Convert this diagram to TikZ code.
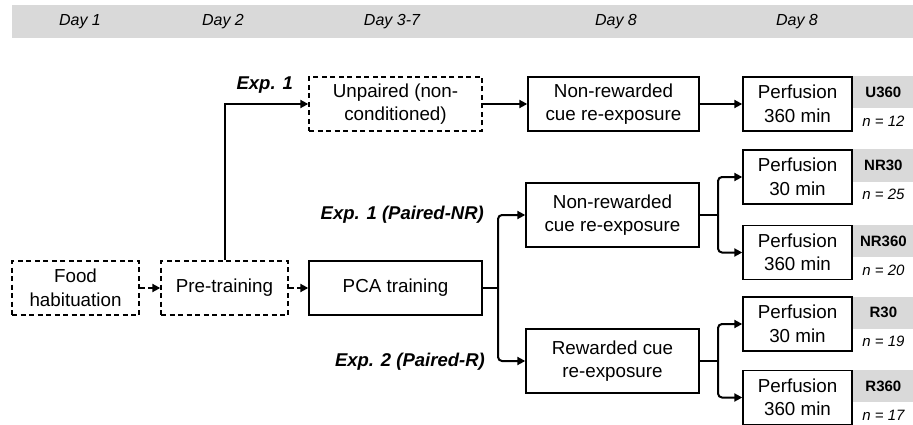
\documentclass[tikz,border=0pt]{standalone}
\usepackage{fontspec}
\setmainfont{Liberation Sans}
\usetikzlibrary{arrows.meta}
\definecolor{bandgray}{HTML}{D9D9D9}
\tikzset{
  box/.style={draw, line width=1.4pt, align=center, inner sep=0pt,
    font=\fontsize{18.8}{23.5}\selectfont},
  dbox/.style={box, dash pattern=on 5pt off 3.5pt},
  conn/.style={line width=2pt, -{Triangle[length=8pt,width=8pt]}},
  dconn/.style={conn, dash pattern=on 5pt off 3.5pt},
  branch/.style={conn, rounded corners=4pt},
  daylbl/.style={font=\fontsize{16}{19}\selectfont\itshape},
  explbl/.style={font=\fontsize{18.5}{22}\selectfont\bfseries\itshape, anchor=east, inner sep=0pt},
  grp/.style={fill=bandgray, minimum width=61pt, minimum height=32pt, inner sep=0pt,
    anchor=north west, font=\fontsize{15}{18}\selectfont\bfseries},
  nlbl/.style={font=\fontsize{15}{18}\selectfont\itshape},
}
\begin{document}
\begin{tikzpicture}[x=1pt,y=-1pt]
\useasboundingbox (0,0) rectangle (913,425);
% header band
\fill[bandgray] (12,5) rectangle (913,38);
\node[daylbl] (d1) at (80,22) {Day 1};
\node[daylbl] (d2) at (223,22) {Day 2};
\node[daylbl] (d3) at (392,22) {Day 3-7};
\node[daylbl] (d4) at (616,22) {Day 8};
\node[daylbl] (d5) at (797,22) {Day 8};
% boxes
\node[dbox, minimum width=127pt, minimum height=54pt] (food) at (75.5,288) {Food\\habituation};
\node[dbox, minimum width=127pt, minimum height=54pt] (pre) at (224.5,288) {Pre-training};
\node[box, minimum width=173pt, minimum height=54pt] (pca) at (395.5,288) {PCA training};
\node[dbox, minimum width=173pt, minimum height=54pt] (unp) at (395.5,104) {Unpaired (non-\\conditioned)};
\node[box, minimum width=171pt, minimum height=54pt] (nr1) at (613.5,104) {Non-rewarded\\cue re-exposure};
\node[box, minimum width=173pt, minimum height=64pt] (nr2) at (612.5,215) {Non-rewarded\\cue re-exposure};
\node[box, minimum width=173pt, minimum height=64pt] (rw) at (612.5,361) {Rewarded cue\\re-exposure};
\node[box, minimum width=109pt, minimum height=54pt] (p1) at (797.5,104) {Perfusion\\360 min};
\node[box, minimum width=109pt, minimum height=54pt] (p2) at (797.5,177) {Perfusion\\30 min};
\node[box, minimum width=109pt, minimum height=54pt] (p3) at (797.5,252.5) {Perfusion\\360 min};
\node[box, minimum width=109pt, minimum height=54pt] (p4) at (797.5,324) {Perfusion\\30 min};
\node[box, minimum width=109pt, minimum height=54pt] (p5) at (797.5,397.5) {Perfusion\\360 min};
% group labels
\node[grp] (g1) at (p1.north east) {U360};
\node[grp] (g2) at (p2.north east) {NR30};
\node[grp] (g3) at (p3.north east) {NR360};
\node[grp] (g4) at (p4.north east) {R30};
\node[grp] (g5) at (p5.north east) {R360};
\node[nlbl] (n1) at ([yshift=-13pt]g1.south) {n = 12};
\node[nlbl] (n2) at ([yshift=-13pt]g2.south) {n = 25};
\node[nlbl] (n3) at ([yshift=-13pt]g3.south) {n = 20};
\node[nlbl] (n4) at ([yshift=-13pt]g4.south) {n = 19};
\node[nlbl] (n5) at ([yshift=-13pt]g5.south) {n = 17};
% experiment labels
\node[explbl] (e1) at (293,85) {Exp. 1};
\node[explbl] (e2) at (484,215) {Exp. 1 (Paired-NR)};
\node[explbl] (e3) at (485,362) {Exp. 2 (Paired-R)};
% connectors
\draw[dconn] (food) -- (pre);
\draw[dconn] (pre) -- (pca);
\draw[conn] (pre.north) |- (unp.west);
\draw[conn] (unp) -- (nr1);
\draw[conn] (nr1) -- (p1);
\coordinate (j1) at (498,288);
\draw[line width=2pt] (pca.east) -- (j1);
\draw[branch] (j1) |- (nr2.west);
\draw[branch] (j1) |- (rw.west);
\coordinate (j2) at (718,215);
\draw[line width=2pt] (nr2.east) -- (j2);
\draw[branch] (j2) |- (p2.west);
\draw[branch] (j2) |- (p3.west);
\coordinate (j3) at (718,361);
\draw[line width=2pt] (rw.east) -- (j3);
\draw[branch] (j3) |- (p4.west);
\draw[branch] (j3) |- (p5.west);
\end{tikzpicture}
\end{document}
